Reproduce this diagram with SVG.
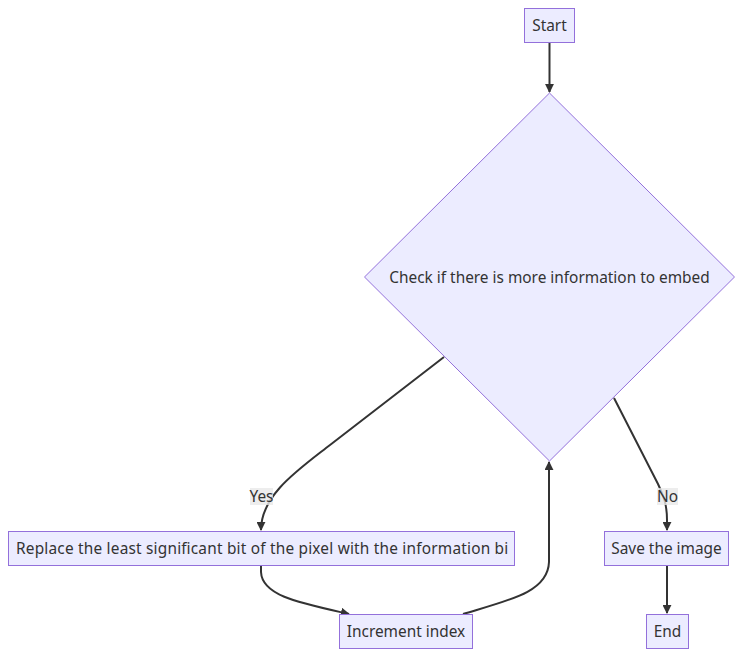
<svg xmlns="http://www.w3.org/2000/svg" width="743" height="657" viewBox="0 0 743 657">
<style>
.node rect, .node polygon { fill: #ECECFF; stroke: #9370DB; stroke-width: 1px; }
.node text { font-family: "Noto Sans", "Liberation Sans", Arial, sans-serif; font-size: 15.4px; fill: #333333; text-anchor: middle; dominant-baseline: central; }
.edge { fill: none; stroke: #333333; stroke-width: 2px; }
.lbl rect { fill: #E8E8E8; opacity: 0.8; }
.lbl text { font-family: "Noto Sans", "Liberation Sans", Arial, sans-serif; font-size: 15.4px; fill: #333333; text-anchor: middle; dominant-baseline: central; }
</style>
<defs>
<marker id="arrow" viewBox="0 0 10 10" refX="9" refY="5" markerUnits="userSpaceOnUse" markerWidth="9" markerHeight="9" orient="auto">
<path d="M0,0 L10,5 L0,10 z" fill="#333333"/>
</marker>
<clipPath id="clipReplace"><rect x="9" y="531" width="499" height="34"/></clipPath>
</defs>
<rect width="743" height="657" fill="#ffffff"/>
<g id="connectors">
<path class="edge" d="M549.5,42 L549.5,92" marker-end="url(#arrow)"/>
<path class="edge" d="M444,357 L330,445 C298,470 261,495 261,530" marker-end="url(#arrow)"/>
<path class="edge" d="M614,398 L658,484 C664,497 667,505 667,520 L667,530" marker-end="url(#arrow)"/>
<path class="edge" d="M261,565 L261,572 C262,596 300,603 349,614" marker-end="url(#arrow)"/>
<path class="edge" d="M463,614 C510,600 548,592 549,562 L549,462" marker-end="url(#arrow)"/>
<path class="edge" d="M667,565 L667,613" marker-end="url(#arrow)"/>
</g>
<g id="labels">
<g class="lbl"><rect x="250" y="488" width="23" height="17"/><text x="261.5" y="496">Yes</text></g>
<g class="lbl"><rect x="657" y="488" width="21" height="17"/><text x="667.5" y="496">No</text></g>
</g>
<g id="start" class="node"><rect x="524.5" y="8.5" width="50" height="34"/><text x="549.5" y="25">Start</text></g>
<g id="check" class="node"><polygon points="549.5,93 734.5,277 549.5,461 364.5,277"/><text x="549.5" y="277">Check if there is more information to embed</text></g>
<g id="replace" class="node"><rect x="8.5" y="531.5" width="506" height="34"/><text x="16" y="548" style="text-anchor:start" textLength="498" lengthAdjust="spacing" clip-path="url(#clipReplace)">Replace the least significant bit of the pixel with the information bit</text></g>
<g id="save" class="node"><rect x="604.5" y="531.5" width="124" height="34"/><text x="666.5" y="548">Save the image</text></g>
<g id="increment" class="node"><rect x="339.5" y="614.5" width="133" height="34"/><text x="406" y="631">Increment index</text></g>
<g id="end" class="node"><rect x="646.5" y="614.5" width="42" height="34"/><text x="667.5" y="631">End</text></g>
</svg>
